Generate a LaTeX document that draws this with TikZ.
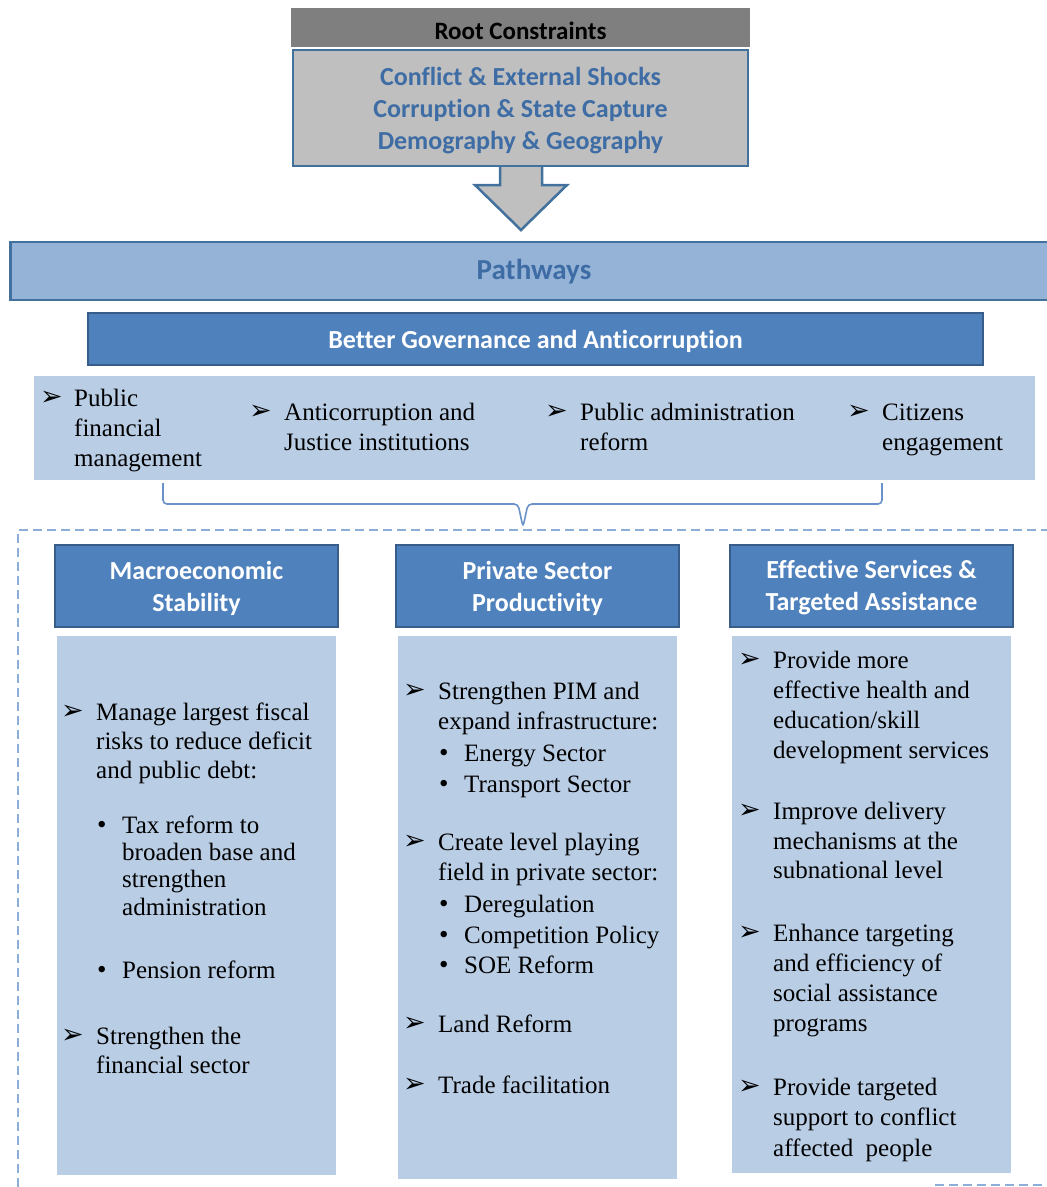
\documentclass[tikz,border=0pt]{standalone}
\usepackage{fontspec}
\setmainfont{Liberation Serif}
\newfontfamily\headfont[Ligatures={NoCommon,NoContextual}]{Carlito}
\newfontfamily\symfont{DejaVu Sans}
\definecolor{rootgray}{HTML}{7F7F7F}
\definecolor{boxgray}{HTML}{BFBFBF}
\definecolor{edgeblue}{HTML}{41719C}
\definecolor{textblue}{HTML}{3E6CA4}
\definecolor{pathfill}{HTML}{95B3D7}
\definecolor{hdrfill}{HTML}{4F81BD}
\definecolor{hdrline}{HTML}{385D8A}
\definecolor{panel}{HTML}{B9CDE5}
\definecolor{dashblue}{HTML}{8EAEDA}
\definecolor{bracecol}{HTML}{6A92C8}
\begin{document}
\begin{tikzpicture}[x=1pt,y=-1pt,
  body/.style={font=\fontsize{25}{29}\selectfont, anchor=mid west, inner sep=0pt, yshift=-5pt},
  arrowmark/.style={font=\symfont\fontsize{27}{30}\selectfont, anchor=mid west, inner sep=0pt, yshift=-5pt},
  dotmark/.style={font=\fontsize{27}{30}\selectfont, anchor=mid west, inner sep=0pt, yshift=-5pt},
  hdrbox/.style={draw=hdrline, line width=2.5pt, fill=hdrfill, text=white,
    font=\headfont\bfseries\fontsize{26}{32}\selectfont, align=center,
    minimum width=283, minimum height=82, inner sep=0pt},
  panelbox/.style={fill=panel, draw=white, line width=0.6pt, minimum width=280, inner sep=0pt}]
\clip (0,0) rectangle (1047,1187);
\useasboundingbox (0,0) rectangle (1047,1187);
\fill[white] (0,0) rectangle (1047,1187);

% root constraints block with its down arrow
\draw[fill=boxgray, draw=edgeblue, line width=2.5pt, line join=miter]
  (500,164) -- (500,185) -- (475,185) -- (521,230) -- (567,185) -- (542,185) -- (542,164);
\node[fill=rootgray, minimum width=459, minimum height=39, inner sep=0pt] (roothead) at (520.5,27) {};
\node[font=\headfont\bfseries\fontsize{25}{28}\selectfont] (rootlabel) at (520.5,31) {Root Constraints};
\node[fill=boxgray, draw=edgeblue, line width=2.5pt, minimum width=455, minimum height=116,
  inner sep=0pt] (rootbox) at (520.5,108) {};
\node[text=textblue, align=center, font=\headfont\bfseries\fontsize{26}{32}\selectfont]
  (rootlist) at (520.5,111)
  {Conflict \& External Shocks\\Corruption \& State Capture\\Demography \& Geography};

% pathways bar and governance bar
\node[fill=pathfill, draw=edgeblue, line width=2.5pt, minimum width=1060, minimum height=58,
  inner sep=0pt, anchor=west] (pathbar) at (9,271) {};
\node[text=textblue, font=\headfont\bfseries\fontsize{29}{32}\selectfont] (pathlabel) at (534,272) {Pathways};
\node[fill=hdrfill, draw=hdrline, line width=2.5pt, minimum width=895, minimum height=52,
  inner sep=0pt] (govbar) at (535.5,339) {};
\node[text=white, font=\headfont\bfseries\fontsize{26}{28}\selectfont] (govlabel) at (535.5,341)
  {Better Governance and Anticorruption};

% governance areas
\node[fill=panel, minimum width=1001, minimum height=104, inner sep=0pt] (govpanel) at (534.5,428) {};
\node[arrowmark] (ga1) at (40,398) {➢};
\foreach \t/\y [count=\i] in {Public/399, financial/429, management/459}
  \node[body] (gl1\i) at (74,\y) {\t};
\node[arrowmark] (ga2) at (249,412) {➢};
\foreach \t/\y [count=\i] in {Anticorruption and/413, Justice institutions/443}
  \node[body] (gl2\i) at (284,\y) {\t};
\node[arrowmark] (ga3) at (545,412) {➢};
\foreach \t/\y [count=\i] in {Public administration/413, reform/443}
  \node[body] (gl3\i) at (580,\y) {\t};
\node[arrowmark] (ga4) at (847,412) {➢};
\foreach \t/\y [count=\i] in {Citizens/413, engagement/443}
  \node[body] (gl4\i) at (882,\y) {\t};

% brace gathering the governance areas
\coordinate (brl) at (163,483);
\coordinate (brr) at (882,483);
\coordinate (brtip) at (523,527);
\draw[bracecol, line width=1.6pt, rounded corners=4pt]
  (brl) -- (163,504) -- (518,504) -- (brtip) -- (528,504) -- (882,504) -- (brr);

% dashed frame around the three pillars
\draw[dashblue, line width=1.6pt, dash pattern=on 9pt off 5pt]
  (18,1187) -- (18,530) -- (1047,530);
\draw[dashblue, line width=1.6pt, dash pattern=on 9pt off 5pt]
  (935,1185) -- (1047,1185);

% pillar headers
\node[hdrbox] (h1) at (196.5,586) {};
\node[hdrbox] (h2) at (537.5,586) {};
\node[hdrbox] (h3) at (871.5,586) {};
\node[text=white, align=center, font=\headfont\bfseries\fontsize{26}{32}\selectfont]
  (h1t) at (196.5,588) {Macroeconomic\\Stability};
\node[text=white, align=center, font=\headfont\bfseries\fontsize{26}{32}\selectfont]
  (h2t) at (537.5,588) {Private Sector\\Productivity};
\node[text=white, align=center, font=\headfont\bfseries\fontsize{26}{32}\selectfont]
  (h3t) at (871.5,588) {Effective Services \&\\Targeted Assistance};

% pillar panels
\node[panelbox, minimum height=540, anchor=north] (p1) at (196,635) {};
\node[panelbox, minimum height=544, anchor=north] (p2) at (537,635) {};
\node[panelbox, minimum height=538, anchor=north] (p3) at (871,635) {};

% macroeconomic stability
\node[arrowmark] (m1a) at (61,712) {➢};
\foreach \t/\y [count=\i] in {Manage largest fiscal/713, risks to reduce deficit/742, and public debt:/771}
  \node[body] (m1l\i) at (96,\y) {\t};
\node[dotmark] (m1b) at (97,826) {•};
\foreach \t/\y [count=\i] in {Tax reform to/826, broaden base and/853, strengthen/880, administration/908}
  \node[body] (m1t\i) at (122,\y) {\t};
\node[dotmark] (m1c) at (97,971) {•};
\node[body] (m1p) at (122,971) {Pension reform};
\node[arrowmark] (m2a) at (61,1036) {➢};
\foreach \t/\y [count=\i] in {Strengthen the/1037, financial sector/1066}
  \node[body] (m2l\i) at (96,\y) {\t};

% private sector productivity
\node[arrowmark] (s1a) at (403,691) {➢};
\foreach \t/\y [count=\i] in {Strengthen PIM and/692, expand infrastructure:/722}
  \node[body] (s1l\i) at (438,\y) {\t};
\foreach \t/\y [count=\i] in {Energy Sector/754, Transport Sector/785} {
  \node[dotmark] (s1d\i) at (439,\y) {•};
  \node[body] (s1t\i) at (464,\y) {\t};
}
\node[arrowmark] (s2a) at (403,842) {➢};
\foreach \t/\y [count=\i] in {Create level playing/843, field in private sector:/873}
  \node[body] (s2l\i) at (438,\y) {\t};
\foreach \t/\y [count=\i] in {Deregulation/905, Competition Policy/936, SOE Reform/966} {
  \node[dotmark] (s2d\i) at (439,\y) {•};
  \node[body] (s2t\i) at (464,\y) {\t};
}
\node[arrowmark] (s3a) at (403,1024) {➢};
\node[body] (s3l) at (438,1025) {Land Reform};
\node[arrowmark] (s4a) at (403,1085) {➢};
\node[body] (s4l) at (438,1086) {Trade facilitation};

% effective services and targeted assistance
\node[arrowmark] (e1a) at (738,660) {➢};
\foreach \t/\y [count=\i] in {Provide more/661, effective health and/691, {education\slash skill}/721, development services/751}
  \node[body] (e1l\i) at (773,\y) {\t};
\node[arrowmark] (e2a) at (738,811) {➢};
\foreach \t/\y [count=\i] in {Improve delivery/812, mechanisms at the/842, subnational level/871}
  \node[body] (e2l\i) at (773,\y) {\t};
\node[arrowmark] (e3a) at (738,933) {➢};
\foreach \t/\y [count=\i] in {Enhance targeting/934, and efficiency of/964, social assistance/994, programs/1024}
  \node[body] (e3l\i) at (773,\y) {\t};
\node[arrowmark] (e4a) at (738,1087) {➢};
\foreach \t/\y [count=\i] in {Provide targeted/1088, support to conflict/1118, affected\ \ people/1149}
  \node[body] (e4l\i) at (773,\y) {\t};
\end{tikzpicture}
\end{document}
